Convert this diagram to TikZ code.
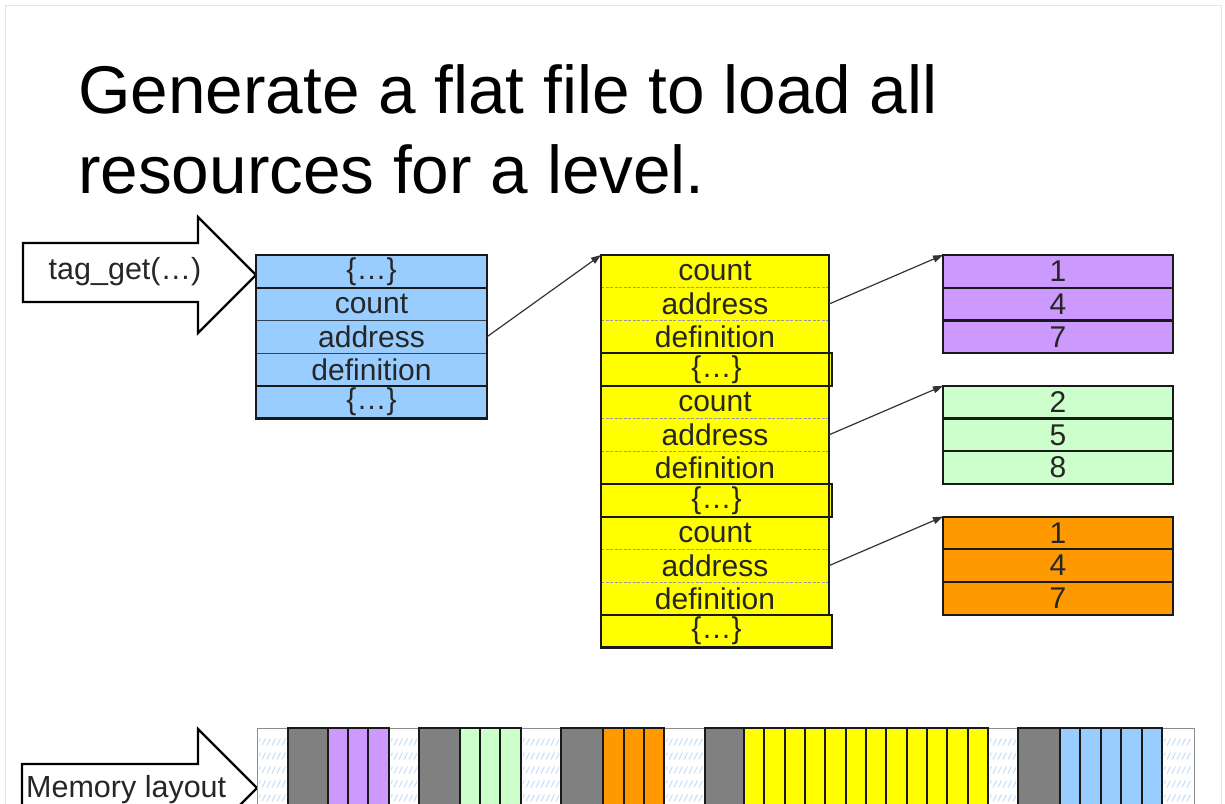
\documentclass[tikz,border=0pt]{standalone}
\usepackage{fontspec}
\setmainfont{Liberation Sans}
\usetikzlibrary{arrows.meta}
\definecolor{cblue}{HTML}{99CCFF}
\definecolor{cyel}{HTML}{FFFF00}
\definecolor{cpur}{HTML}{CC99FF}
\definecolor{cgrn}{HTML}{CCFFCC}
\definecolor{corg}{HTML}{FF9900}
\definecolor{cgray}{HTML}{808080}
\definecolor{chatch}{HTML}{C4DEF8}
\newcommand{\ellbr}{\{…\}}
\begin{document}
\begin{tikzpicture}[x=1pt,y=-1pt,
  cell/.style={rectangle, inner sep=0pt, outer sep=0pt, draw=none, anchor=north west,
    minimum height=32.7pt, font=\fontsize{30}{32}\selectfont, text=black!85},
  frameline/.style={draw=black!90, line width=2.2pt},
  bsep/.style={draw=black!45!cblue!60!black, line width=0.9pt},
  ysep/.style={draw=black!40, line width=0.8pt, dash pattern=on 3pt off 1.5pt},
  link/.style={draw=black!80, line width=1.2pt, -{Triangle[length=10pt,width=7pt]}},
  blockarrow/.style={draw=black, line width=2.4pt, fill=white, line join=miter},
  memblock/.style={draw=black!90, line width=2pt},
  title/.style={inner sep=0pt, anchor=base west, font=\fontsize{67.5}{80}\selectfont},
  lbl/.style={inner sep=0pt, font=\fontsize{30.5}{32}\selectfont, text=black!85}
  ]
\useasboundingbox (0,0) rectangle (1225,803);
\clip (0,0) rectangle (1225,803);
\fill[white] (0,0) rectangle (1225,803);
\draw[black!10, line width=1pt] (5,5) rectangle (1221,830);

% title
\node[title] (t1) at (78,113) {Generate a flat file to load all};
\node[title] (t2) at (78,193) {resources for a level.};

% tag_get arrow
\draw[blockarrow] (23,243) -- (198,243) -- (198,217) -- (256,275) -- (198,333) -- (198,302) -- (23,302) -- cycle;
\node[lbl] (tag) at (125,272) {tag\_get(…)};

% blue box
\foreach \i/\t in {0/{\ellbr},1/count,2/address,3/definition,4/{\ellbr}}
  \node[cell, fill=cblue, minimum width=231pt] (b\i) at (256,{255+\i*32.7}) {\t};
\draw[bsep] (b1.south west) -- (b1.south east);
\draw[bsep] (b2.south west) -- (b2.south east);
\draw[frameline] (b0.south west) -- (b0.south east);
\draw[frameline] (b3.south west) -- (b3.south east);
\draw[frameline] (b0.north west) rectangle (b4.south east);

% yellow column
\foreach \i/\t/\w in {0/count/228,1/address/228,2/definition/228,3/{\ellbr}/231,
                      4/count/228,5/address/228,6/definition/228,7/{\ellbr}/231,
                      8/count/228,9/address/228,10/definition/228,11/{\ellbr}/231}
  \node[cell, fill=cyel, minimum width=\w pt] (y\i) at (601,{255+\i*32.7}) {\t};
\foreach \i in {0,1,4,5,8,9}
  \draw[ysep] (y\i.south west) -- (y\i.south east);
\draw[frameline] (y0.north west) rectangle (y10.south east);
\foreach \i in {3,7,11}
  \draw[frameline] (y\i.north west) rectangle (y\i.south east);

% right boxes
\foreach \i/\t in {0/1,1/4,2/7}
  \node[cell, fill=cpur, minimum width=230pt] (p\i) at (943,{255+\i*32.7}) {\t};
\foreach \i/\t in {0/2,1/5,2/8}
  \node[cell, fill=cgrn, minimum width=230pt] (g\i) at (943,{385.8+\i*32.7}) {\t};
\foreach \i/\t in {0/1,1/4,2/7}
  \node[cell, fill=corg, minimum width=230pt] (o\i) at (943,{516.6+\i*32.7}) {\t};
\foreach \n in {p,g,o}{
  \draw[frameline] (\n0.south west) -- (\n0.south east);
  \draw[frameline] (\n1.south west) -- (\n1.south east);
  \draw[frameline] (\n0.north west) rectangle (\n2.south east);
}

% links
\draw[link] (b2.east) -- (y0.north west);
\draw[link] (y1.east) -- (p0.north west);
\draw[link] (y5.east) -- (g0.north west);
\draw[link] (y9.east) -- (o0.north west);

% memory layout arrow
\draw[blockarrow] (22,764) -- (198,764) -- (198,729) -- (257,788) -- (198,847) -- (198,812) -- (22,812) -- cycle;
\node[lbl, anchor=base west] (mem) at (26,797) {Memory layout};

% memory bar
\draw[draw=black!45, line width=1pt, fill=white] (257,728) rectangle (1194,830);
\foreach \a/\b in {257/288,389/419,521/561,664/705,988/1018,1162/1194}{
  \begin{scope}
    \clip (\a+2,733) rectangle (\b-2,830);
    \foreach \yy in {742,756,770,784,798}
      \foreach \xx in {0,5,...,45}
        \draw[chatch, line width=1pt] (\a+\xx,\yy+3.5) -- (\a+\xx+3.5,\yy-3.5);
  \end{scope}
}
\foreach \a/\b/\c in {288/328/cgray,328/348/cpur,348/368/cpur,368/389/cpur,
                      419/460/cgray,460/480/cgrn,480/500/cgrn,500/521/cgrn,
                      561/603/cgray,603/624/corg,624/644/corg,644/664/corg,
                      705/744/cgray,1018/1060/cgray}
  \draw[memblock, fill=\c] (\a,728) rectangle (\b,830);
\foreach \k in {0,...,11}
  \draw[memblock, fill=cyel] ({744+\k*20.33},728) rectangle ({744+(\k+1)*20.33},830);
\foreach \k in {0,...,4}
  \draw[memblock, fill=cblue] ({1060+\k*20.4},728) rectangle ({1060+(\k+1)*20.4},830);
\end{tikzpicture}
\end{document}
